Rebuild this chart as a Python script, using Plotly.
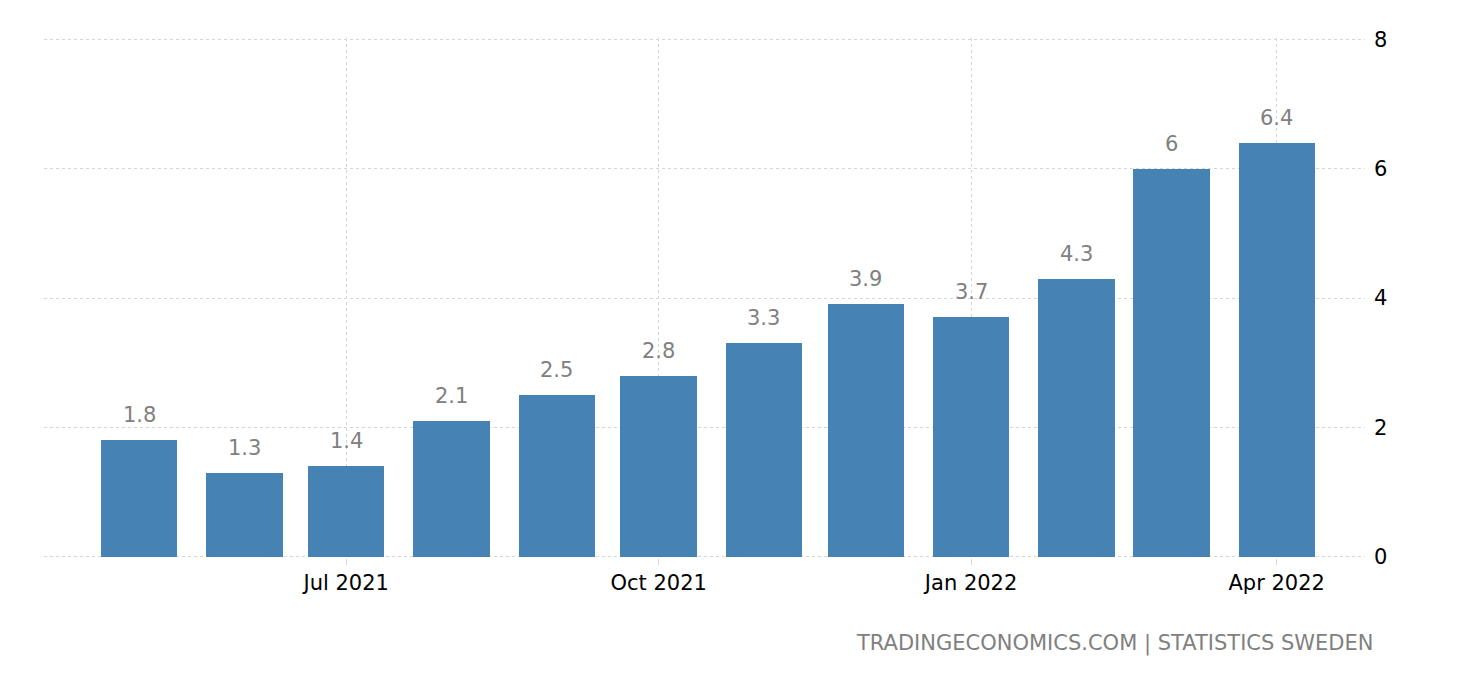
import plotly.graph_objects as go

months = [
    "2021-05-01", "2021-06-01", "2021-07-01", "2021-08-01", "2021-09-01", "2021-10-01",
    "2021-11-01", "2021-12-01", "2022-01-01", "2022-02-01", "2022-03-01", "2022-04-01",
]
values = [1.8, 1.3, 1.4, 2.1, 2.5, 2.8, 3.3, 3.9, 3.7, 4.3, 6, 6.4]
labels = ["1.8", "1.3", "1.4", "2.1", "2.5", "2.8", "3.3", "3.9", "3.7", "4.3", "6", "6.4"]

tick_dates = ["2021-07-01", "2021-10-01", "2022-01-01", "2022-04-01"]
tick_text = ["Jul 2021", "Oct 2021", "Jan 2022", "Apr 2022"]

FONT = "DejaVu Sans"
DAY_MS = 86400000

fig = go.Figure()

fig.add_trace(
    go.Bar(
        x=months,
        y=values,
        width=[22.5 * DAY_MS] * len(months),
        marker=dict(color="#4682B4", line_width=0),
        hoverinfo="x+y",
    )
)

# value labels above each bar
for m, v, t in zip(months, values, labels):
    fig.add_annotation(
        x=m,
        y=v,
        text=t,
        showarrow=False,
        yanchor="bottom",
        yshift=11,
        font=dict(family=FONT, size=21, color="#808080"),
    )

fig.add_annotation(
    text="TRADINGECONOMICS.COM | STATISTICS SWEDEN",
    xref="paper",
    yref="paper",
    x=1.008,
    y=-0.136,
    xanchor="right",
    yanchor="top",
    showarrow=False,
    font=dict(family=FONT, size=21, color="#808080"),
)

fig.update_layout(
    width=1460,
    height=680,
    plot_bgcolor="white",
    paper_bgcolor="white",
    showlegend=False,
    margin=dict(l=36, r=103, t=30, b=130),
    xaxis=dict(
        type="date",
        range=["2021-04-03", "2022-04-27"],
        tickvals=tick_dates,
        ticktext=tick_text,
        tickfont=dict(family=FONT, size=21, color="black"),
        showgrid=True,
        gridcolor="#d6d6d6",
        griddash="dot",
        gridwidth=1,
        ticks="outside",
        ticklen=6,
        tickcolor="#d6d6d6",
        showline=False,
        zeroline=False,
    ),
    yaxis=dict(
        side="right",
        range=[-0.02, 8.02],
        tickvals=[0, 2, 4, 6, 8],
        tickfont=dict(family=FONT, size=21, color="black"),
        showgrid=True,
        gridcolor="#d6d6d6",
        griddash="dot",
        gridwidth=1,
        zeroline=False,
        showline=False,
        ticks="",
        ticklabelstandoff=8,
    ),
    bargap=0,
)

fig.write_html("out.html")
